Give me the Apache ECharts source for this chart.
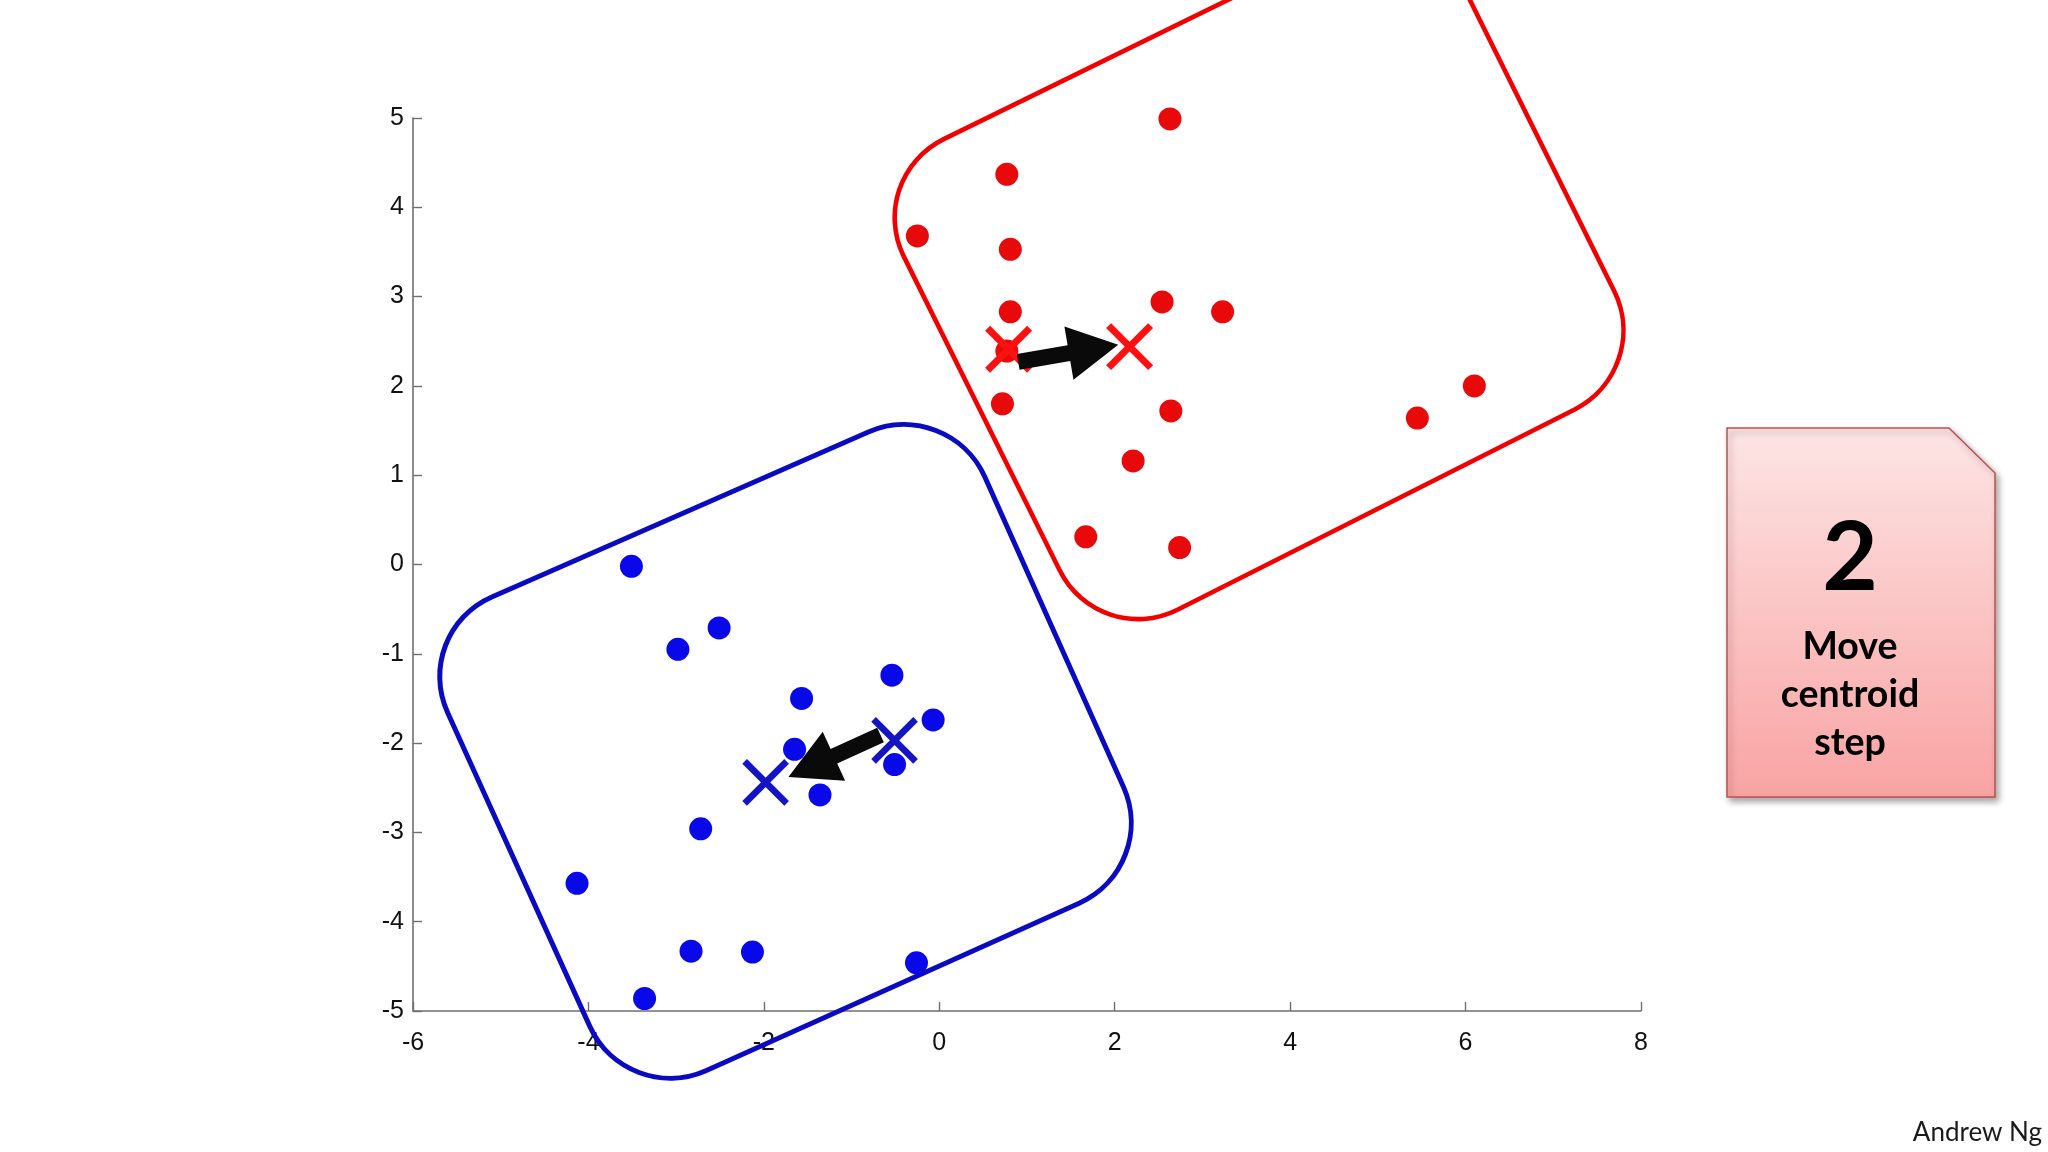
<!DOCTYPE html>
<html><head><meta charset="utf-8">
<script src="https://cdn.jsdelivr.net/npm/echarts@6/dist/echarts.min.js"></script>
<style>html,body{margin:0;padding:0;background:#fff}#c{width:2048px;height:1152px}</style>
</head><body><div id="c"></div>
<script>
// ---- data ----
const xTickLabels = ['-6','-4','-2','0','2','4','6','8'];
const yTickLabels = ['-5','-4','-3','-2','-1','0','1','2','3','4','5'];

const redPoints = [[2.63,4.99],[0.77,4.37],[-0.25,3.68],[0.81,3.53],[0.81,2.83],[2.54,2.94],[3.23,2.83],
  [0.77,2.39],[0.72,1.80],[2.64,1.72],[2.21,1.16],[5.45,1.64],[6.10,2.00],[1.67,0.31],[2.74,0.19]];
const bluePoints = [[-3.51,-0.02],[-2.98,-0.95],[-2.51,-0.71],[-0.54,-1.24],[-1.57,-1.50],[-0.07,-1.74],
  [-1.65,-2.07],[-0.51,-2.24],[-1.36,-2.58],[-2.72,-2.96],[-4.13,-3.57],[-2.83,-4.33],[-2.13,-4.34],
  [-0.26,-4.46],[-3.36,-4.86]];

const redCentroids = [[0.79,2.41],[2.17,2.44]];
const blueCentroids = [[-0.51,-1.97],[-1.98,-2.44]];

// arrows: [fromX, fromY, tipX, tipY]
const arrows = [[0.90,2.27,2.04,2.46],[-0.67,-1.91,-1.72,-2.38]];

// cluster outline corners (rotated squares), data coords
const redOutline = [[-0.85,4.33],[5.51,7.39],[8.14,2.18],[1.82,-0.95]];
const blueOutline = [[-6.02,-0.76],[0.11,1.88],[2.51,-3.39],[-3.57,-6.07]];

// ---- rendering ----
const chart = echarts.init(document.getElementById('c'));

function roundedPath(pts, r) {
  const n = pts.length, k = 0.5523;
  let d = '';
  for (let i = 0; i < n; i++) {
    const p = pts[(i - 1 + n) % n], c = pts[i], q = pts[(i + 1) % n];
    const l1 = Math.hypot(p[0]-c[0], p[1]-c[1]), l2 = Math.hypot(q[0]-c[0], q[1]-c[1]);
    const a = [c[0] + (p[0]-c[0]) / l1 * r, c[1] + (p[1]-c[1]) / l1 * r];
    const b = [c[0] + (q[0]-c[0]) / l2 * r, c[1] + (q[1]-c[1]) / l2 * r];
    const c1 = [a[0] + (c[0]-a[0]) * k, a[1] + (c[1]-a[1]) * k];
    const c2 = [b[0] + (c[0]-b[0]) * k, b[1] + (c[1]-b[1]) * k];
    d += (i === 0 ? 'M' : 'L') + a[0] + ' ' + a[1] + ' C' + c1[0] + ' ' + c1[1] + ' ' + c2[0] + ' ' + c2[1] + ' ' + b[0] + ' ' + b[1] + ' ';
  }
  return d + 'Z';
}

const outlines = [
  { pts: blueOutline, color: '#0a0ac2', width: 5 },
  { pts: redOutline, color: '#f20000', width: 4.6 }
];

function outlineSeries() {
  return {
    type: 'custom', z: 1, clip: false, silent: true,
    data: outlines.map((o, i) => [o.pts[0][0], o.pts[0][1], i]),
    renderItem: function (params, api) {
      const o = outlines[api.value(2)];
      const px = o.pts.map(p => api.coord(p));
      return { type: 'path', shape: { pathData: roundedPath(px, 88) },
        style: { fill: 'none', stroke: o.color, lineWidth: o.width } };
    }
  };
}

function crossSeries(data, color, w) {
  return {
    type: 'custom', z: 3, clip: false, silent: true, data: data,
    renderItem: function (params, api) {
      const c = api.coord([api.value(0), api.value(1)]);
      const h = 21;
      return { type: 'group', children: [
        { type: 'line', shape: { x1: c[0]-h, y1: c[1]-h, x2: c[0]+h, y2: c[1]+h }, style: { stroke: color, lineWidth: w } },
        { type: 'line', shape: { x1: c[0]-h, y1: c[1]+h, x2: c[0]+h, y2: c[1]-h }, style: { stroke: color, lineWidth: w } }
      ]};
    }
  };
}

function arrowSeries() {
  return {
    type: 'custom', z: 4, clip: false, silent: true, data: arrows,
    encode: { x: [0, 2], y: [1, 3] },
    renderItem: function (params, api) {
      const p0 = api.coord([api.value(0), api.value(1)]);
      const p1 = api.coord([api.value(2), api.value(3)]);
      const L = Math.hypot(p1[0]-p0[0], p1[1]-p0[1]);
      const dx = (p1[0]-p0[0]) / L, dy = (p1[1]-p0[1]) / L;
      const nx = -dy, ny = dx;
      const headLen = 50, headHalf = 27, shaftHalf = 8;
      const bx = p1[0] - dx * headLen, by = p1[1] - dy * headLen;
      const pts = [
        [p0[0] + nx*shaftHalf, p0[1] + ny*shaftHalf],
        [bx + nx*shaftHalf, by + ny*shaftHalf],
        [bx + nx*headHalf, by + ny*headHalf],
        [p1[0], p1[1]],
        [bx - nx*headHalf, by - ny*headHalf],
        [bx - nx*shaftHalf, by - ny*shaftHalf],
        [p0[0] - nx*shaftHalf, p0[1] - ny*shaftHalf]
      ];
      return { type: 'polygon', shape: { points: pts }, style: { fill: '#0a0a0a' } };
    }
  };
}

const axisCommon = {
  type: 'value',
  splitLine: { show: false },
  axisLine: { show: true, onZero: false, lineStyle: { color: '#6f6f6f', width: 1.6 } },
  axisTick: { show: true, inside: true, length: 9, lineStyle: { color: '#6f6f6f', width: 1.4 } },
};

const option = {
  animation: false,
  backgroundColor: '#ffffff',
  grid: { left: 413, right: 407, top: 118, bottom: 141, containLabel: false },
  xAxis: Object.assign({}, axisCommon, {
    min: -6, max: 8, interval: 2,
    axisLabel: { margin: 20, fontSize: 25, fontFamily: 'Liberation Sans', color: '#111',
      formatter: v => xTickLabels[Math.round((v + 6) / 2)] }
  }),
  yAxis: Object.assign({}, axisCommon, {
    min: -5, max: 5, interval: 1,
    axisLabel: { margin: 9, fontSize: 25, fontFamily: 'Liberation Sans', color: '#111',
      formatter: v => yTickLabels[Math.round(v + 5)] }
  }),
  series: [
    outlineSeries(),
    { type: 'scatter', z: 2, data: redPoints, symbol: 'circle', symbolSize: 23, itemStyle: { color: '#e80a0a', opacity: 1 }, silent: true },
    { type: 'scatter', z: 2, data: bluePoints, symbol: 'circle', symbolSize: 23, itemStyle: { color: '#0808e8', opacity: 1 }, silent: true },
    crossSeries(redCentroids, '#ff1010', 7),
    crossSeries(blueCentroids, '#1414c4', 6.5),
    arrowSeries()
  ],
  graphic: [
    { type: 'polygon', z: 10,
      shape: { points: [[1727,428],[1949,428],[1995,473],[1995,797],[1727,797]] },
      style: {
        fill: new echarts.graphic.LinearGradient(0, 0, 0, 1, [
          { offset: 0, color: '#fde5e5' }, { offset: 1, color: '#f9a3a3' }]),
        stroke: '#c0504d', lineWidth: 1.5,
        shadowBlur: 6, shadowOffsetX: 3, shadowOffsetY: 4, shadowColor: 'rgba(0,0,0,0.35)'
      } },
    { type: 'text', z: 11, x: 1850, y: 559, style: { text: '2', font: 'bold 96px Lato', fill: '#000', align: 'center', verticalAlign: 'middle' } },
    { type: 'text', z: 11, x: 1850, y: 647, style: { text: 'Move', font: 'bold 37.5px Lato', fill: '#000', align: 'center', verticalAlign: 'middle' } },
    { type: 'text', z: 11, x: 1850, y: 695, style: { text: 'centroid', font: 'bold 37.5px Lato', fill: '#000', align: 'center', verticalAlign: 'middle' } },
    { type: 'text', z: 11, x: 1850, y: 743, style: { text: 'step', font: 'bold 37.5px Lato', fill: '#000', align: 'center', verticalAlign: 'middle' } },
    { type: 'text', z: 11, x: 2042, y: 1133, style: { text: 'Andrew Ng', font: '26px Lato', fill: '#1a1a1a', align: 'right', verticalAlign: 'middle' } }
  ]
};
chart.setOption(option);
</script>
</body></html>
